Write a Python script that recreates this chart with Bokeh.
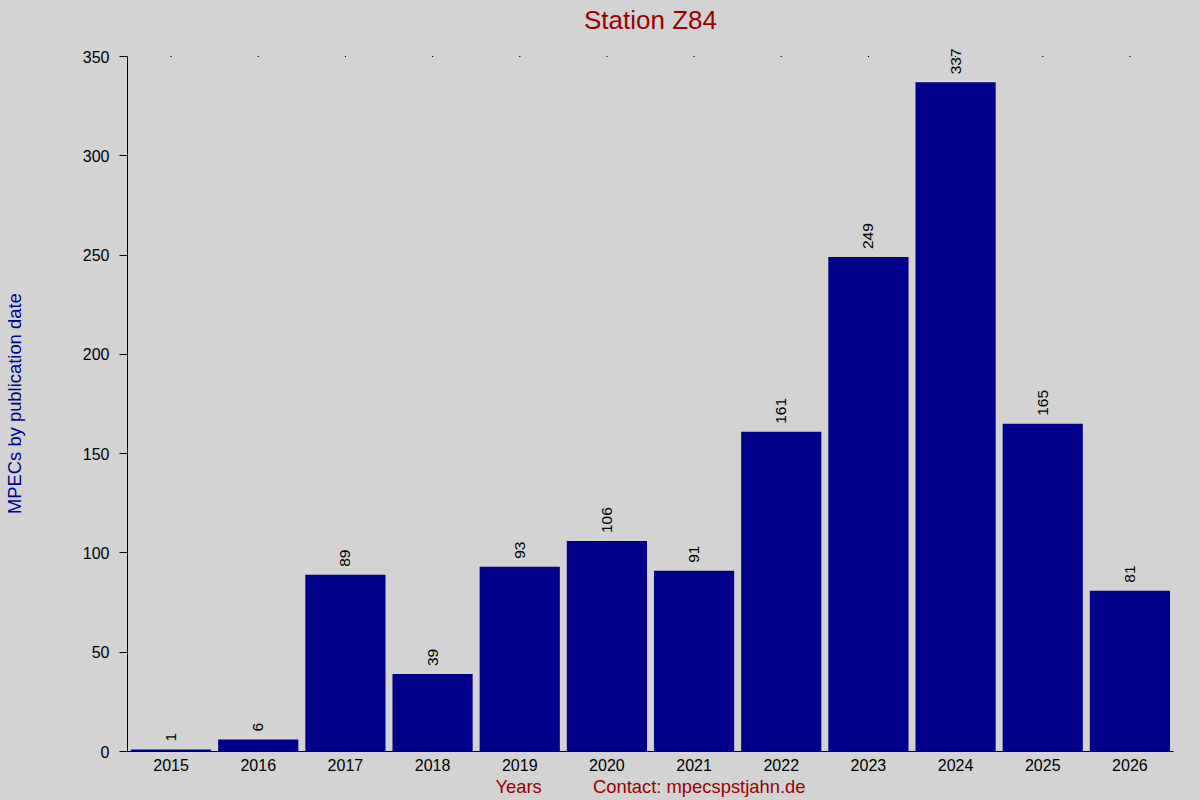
import math
from bokeh.plotting import figure
from bokeh.models import Range1d, FixedTicker, ColumnDataSource
from bokeh.core.properties import value
from bokeh.embed import file_html
from bokeh.resources import INLINE

# ---- data ----
years = [2015, 2016, 2017, 2018, 2019, 2020, 2021, 2022, 2023, 2024, 2025, 2026]
counts = [1, 6, 89, 39, 93, 106, 91, 161, 249, 337, 165, 81]
y_ticks = [0, 50, 100, 150, 200, 250, 300, 350]
title_text = "Station Z84"
y_label = "MPECs by publication date"
x_label = "Years"
contact_text = "Contact: mpecspstjahn.de"

FONT = "Liberation Sans"
BG = "#d3d3d3"
BAR = "#00008b"
RED = "#990000"
NBSP = "\u00a0"

y_top = max(y_ticks)
src = ColumnDataSource(dict(year=years, count=counts, label=[str(c) for c in counts]))

p = figure(width=1200, height=800, output_backend="svg", toolbar_location=None,
           x_range=Range1d(2014.5, 2026.5), y_range=Range1d(0, 358.06),
           min_border_left=126, min_border_right=27, min_border_top=40, min_border_bottom=49)
p.background_fill_color = BG
p.border_fill_color = BG
p.outline_line_color = None
p.grid.visible = False

p.title.text = title_text
p.title.align = "center"
p.title.vertical_align = "top"
p.title.text_font = FONT
p.title.text_font_size = "26px"
p.title.text_font_style = "normal"
p.title.text_color = RED
p.title.standoff = 8

p.vbar(x="year", top="count", width=0.92, bottom=0, source=src,
       fill_color=BAR, line_color=None)

p.text(x="year", y="count", text="label", source=src, angle=math.pi / 2,
       text_align="left", text_baseline="middle", y_offset=-8,
       text_font=value(FONT), text_font_size="15.5px", text_color="black")

# small tick dots along the top edge of the axis range
p.scatter(x=years, y=[y_top] * len(years), marker="square", size=1.2,
          fill_color="black", line_color=None)

# x axis
xa = p.xaxis[0]
xa.ticker = FixedTicker(ticks=years)
xa.major_tick_out = 0
xa.major_tick_in = 0
xa.minor_tick_out = 0
xa.minor_tick_in = 0
xa.major_label_standoff = 7
xa.major_label_text_font = FONT
xa.major_label_text_font_size = "16px"
xa.major_label_text_color = "black"
xa.axis_line_color = "black"
xa.axis_label = x_label + NBSP * 10 + contact_text
xa.axis_label_text_font = FONT
xa.axis_label_text_font_size = "18.4px"
xa.axis_label_text_font_style = "normal"
xa.axis_label_text_color = RED
xa.axis_label_standoff = 2

# y axis
ya = p.yaxis[0]
ya.ticker = FixedTicker(ticks=y_ticks)
ya.bounds = (0, y_top)
ya.major_tick_out = 8
ya.major_tick_in = 0
ya.minor_tick_out = 0
ya.minor_tick_in = 0
ya.major_label_standoff = 10
ya.major_label_text_font = FONT
ya.major_label_text_font_size = "16px"
ya.major_label_text_color = "black"
ya.axis_line_color = "black"
# trailing spaces keep the label centred on the 0-350 span rather than the whole frame
ya.axis_label = y_label + NBSP * 3
ya.axis_label_text_font = FONT
ya.axis_label_text_font_size = "18.4px"
ya.axis_label_text_font_style = "normal"
ya.axis_label_text_color = BAR
ya.axis_label_standoff = 55

html = file_html(p, INLINE)
html = html.replace("</head>", "<style>body{background:#d3d3d3;}</style></head>")
open("out.html", "w").write(html)
